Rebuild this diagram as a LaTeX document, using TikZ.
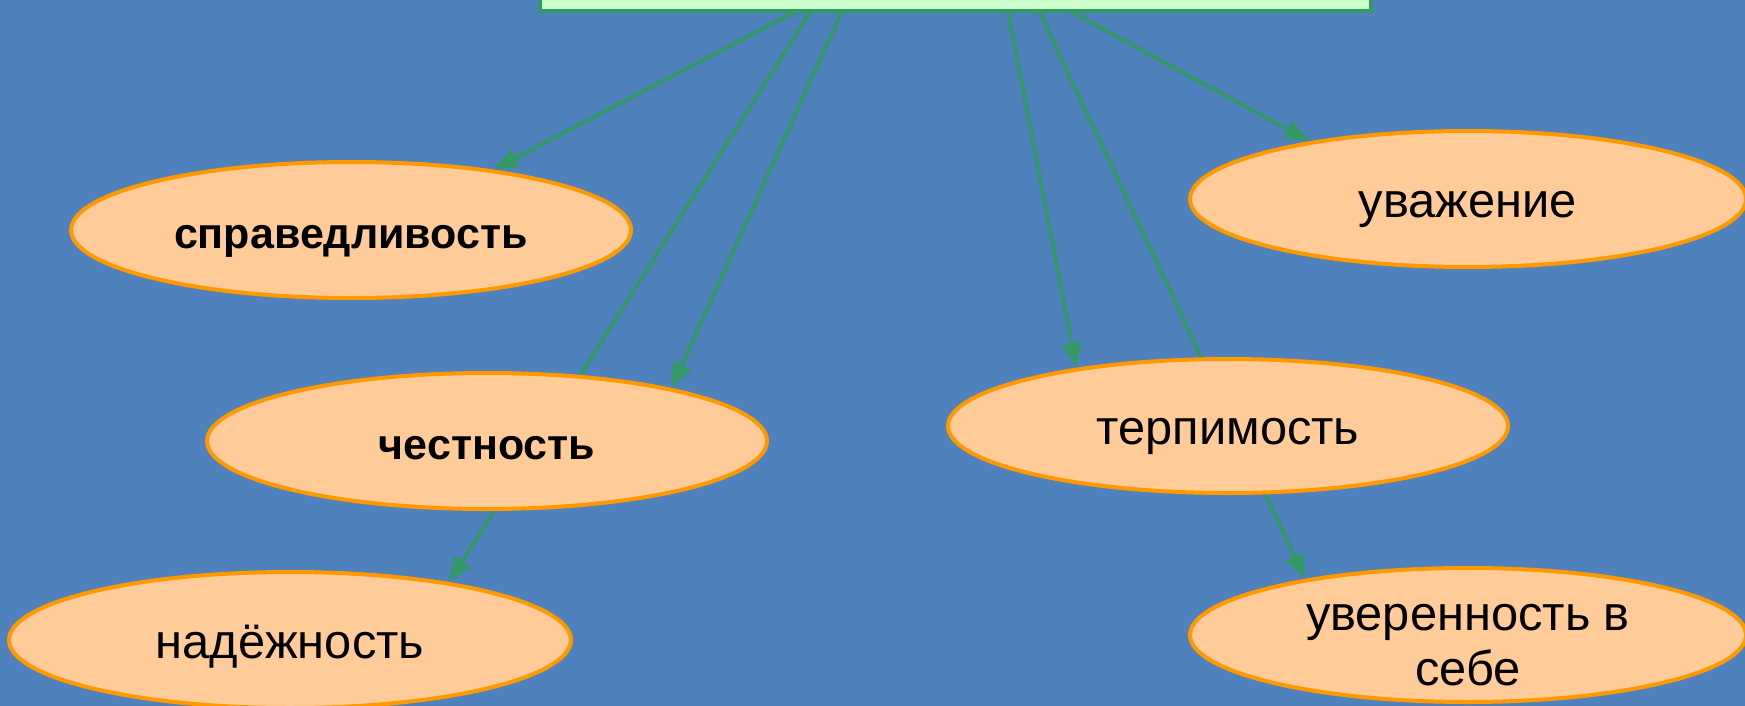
\documentclass[tikz,border=0pt]{standalone}
\usepackage{fontspec}
\setmainfont{Liberation Sans}
\usetikzlibrary{arrows.meta,shapes.geometric}
\definecolor{bg}{RGB}{79,129,189}
\definecolor{boxfill}{RGB}{204,255,204}
\definecolor{grn}{RGB}{51,153,102}
\definecolor{ellfill}{RGB}{255,204,153}
\definecolor{orng}{RGB}{255,153,0}
\begin{document}
\begin{tikzpicture}[x=1pt,y=-1pt,
  topbox/.style={draw=grn,fill=boxfill,line width=4pt,minimum width=831pt,minimum height=100pt,inner sep=0pt},
  oval/.style={ellipse,draw=orng,fill=ellfill,line width=4pt,inner sep=0pt,minimum width=560pt,minimum height=136pt,font=\fontsize{48.8}{55}\selectfont,text height=36pt,text depth=0pt},
  boldoval/.style={oval,font=\fontsize{43}{50}\selectfont\bfseries},
  arr/.style={draw=grn,line width=3.8pt,-{Triangle[length=25pt,width=19pt]}}
]
\useasboundingbox (0,0) rectangle (1745,706);
\clip (0,0) rectangle (1745,706);
\fill[bg] (0,0) rectangle (1745,706);

\node[topbox] (top) at (955.5,-39) {};
\coordinate (s1) at (797,11);
\coordinate (s2) at (811,11);
\coordinate (s3) at (842,11);
\coordinate (s4) at (1008,11);
\coordinate (s5) at (1039,11);
\coordinate (s6) at (1070,11);

\node[oval,minimum width=562pt] (nad) at (290,640) {надёжность};
\node[oval,minimum width=556pt,minimum height=134pt,text height=100pt,text depth=0pt,inner ysep=-25pt] (uver) at (1468,635)
  {\vbox{\halign{\hfil#\hfil\cr уверенность в\cr себе\cr}}};
\node[boldoval] (spr) at (351,230) {справедливость};
\node[oval,minimum width=556pt] (uvazh) at (1468,199) {уважение};

\draw[arr] (s2) -- (nad.20.4);
\draw[arr] (s5) -- (uver.161.1);

\node[boldoval] (chest) at (487,441) {честность};
\node[oval,minimum height=134pt] (terp) at (1228,426) {терпимость};

\draw[arr] (s1) -- (spr.23);
\draw[arr] (s3) -- (chest.16);
\draw[arr] (s4) -- (terp.159);
\draw[arr] (s6) -- (uvazh.160.5);
\end{tikzpicture}
\end{document}
